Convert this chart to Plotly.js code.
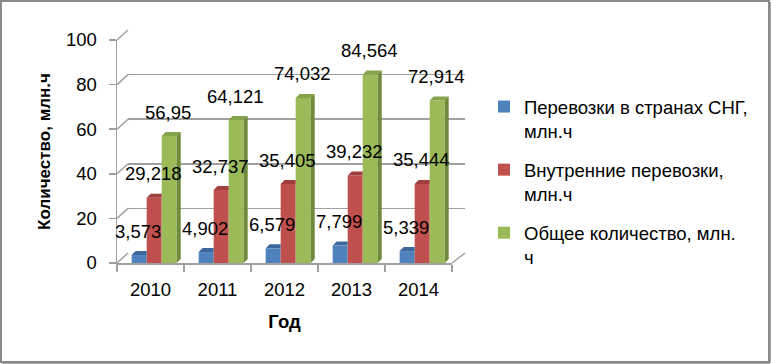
<!DOCTYPE html>
<html><head><meta charset="utf-8">
<script src="https://cdn.plot.ly/plotly-3.0.1.min.js"></script>
<style>html,body{margin:0;padding:0;background:#fff}#chart{width:771px;height:364px}</style>
</head><body><div id="chart"></div>
<script>
// ---- data ----
const years = ['2010', '2011', '2012', '2013', '2014'];
const cis = [3.573, 4.902, 6.579, 7.799, 5.339];
const domestic = [29.218, 32.737, 35.405, 39.232, 35.444];
const total = [56.95, 64.121, 74.032, 84.564, 72.914];
const seriesNames = ['Перевозки в странах СНГ,<br>млн.ч', 'Внутренние перевозки,<br>млн.ч', 'Общее количество, млн.<br>ч'];
const yTicks = [0, 20, 40, 60, 80, 100];
const xTitle = 'Год';
const yTitle = 'Количество, млн.ч';

// ---- style ----
const FONT = 'Liberation Sans, Arial, sans-serif';
const GRID = '#a0a0a0';
const front = ['#4f81bd', '#c0504d', '#9bbb59'];
const topC = ['#3d679c', '#a03f3c', '#84a34a'];
const sideC = ['#385d8a', '#8c3836', '#6f8a3b'];

// plot area (px)
const L = 117, R = 465, T = 30, B = 263;
const W = R - L, H = B - T;
const frontW = 335, frontH = 223;        // front plane
const depthX = 11, depthY = 10;          // back-wall offset
const px = x => (x - L) / W;
const py = y => (B - y) / H;

const nCat = years.length;
const xs = years.map((_, i) => i);
const barW = 0.224;
const offs = [-0.281, -0.057, 0.167];
const pxPerX = frontW / nCat, pxPerY = frontH / 100;
const ddx = 4 / pxPerX, ddy = 4 / pxPerY;

const series = [cis, domestic, total];
const fmt = v => String(v).replace('.', ',');

const traces = [];
// back wall (gridlines) subplot
traces.push({x: [0], y: [0], xaxis: 'x', yaxis: 'y', type: 'scatter', mode: 'markers',
  marker: {opacity: 0}, showlegend: false, hoverinfo: 'skip'});

series.forEach((vals, s) => {
  traces.push({
    type: 'bar', x: xs, y: vals, name: seriesNames[s], xaxis: 'x2', yaxis: 'y2',
    width: barW, offset: offs[s], marker: {color: front[s], line: {width: 0}},
    legendgroup: 'g' + s, hoverinfo: 'skip'
  });
});
// 3D faces derived from the data
series.forEach((vals, s) => {
  const last = s === series.length - 1;
  const tx = [], ty = [], sx = [], sy = [];
  vals.forEach((v, i) => {
    const xl = i + offs[s], xr = xl + barW;
    if (last) {
      tx.push(xl, xl + ddx, xr + ddx, xr, xl, null);
      sx.push(xr, xr + ddx, xr + ddx, xr, xr, null);
      sy.push(0, ddy, v + ddy, v, 0, null);
    } else {
      tx.push(xl, xl + ddx, xr, xr, xl, null);
    }
    ty.push(v, v + ddy, v + ddy, v, v, null);
  });
  traces.push({type: 'scatter', x: tx, y: ty, xaxis: 'x2', yaxis: 'y2', mode: 'lines',
    fill: 'toself', fillcolor: topC[s], line: {width: 0, color: topC[s]}, showlegend: false, hoverinfo: 'skip'});
  if (last) traces.push({type: 'scatter', x: sx, y: sy, xaxis: 'x2', yaxis: 'y2', mode: 'lines',
    fill: 'toself', fillcolor: sideC[s], line: {width: 0, color: sideC[s]}, showlegend: false, hoverinfo: 'skip'});
});

const annotations = [];
series.forEach((vals, s) => {
  vals.forEach((v, i) => {
    annotations.push({x: i + offs[s] + barW / 2, y: v, xref: 'x2', yref: 'y2', text: fmt(v),
      showarrow: false, yshift: 24, xshift: -1, font: {family: FONT, size: 18.5, color: '#000'}});
  });
});

const shapes = [];
// slanted side-wall connectors
yTicks.forEach(v => {
  shapes.push({type: 'line', xref: 'paper', yref: 'paper', layer: 'below',
    x0: 0, y0: (v / 100) * frontH / H, x1: depthX / W, y1: (depthY + (v / 100) * frontH) / H,
    line: {color: GRID, width: 1.5}});
});
// right floor edge
shapes.push({type: 'line', xref: 'paper', yref: 'paper', layer: 'below',
  x0: frontW / W, y0: 0, x1: 1, y1: depthY / H, line: {color: GRID, width: 1.5}});
// outer border
shapes.push({type: 'rect', xref: 'paper', yref: 'paper', x0: px(1), x1: px(769), y0: py(362), y1: py(1),
  line: {color: '#8a8a8a', width: 2}});
shapes.push({type: 'line', xref: 'paper', yref: 'paper', x0: px(770), x1: px(770), y0: py(363), y1: py(2),
  line: {color: '#8a8a8a', width: 1.5}});
shapes.push({type: 'line', xref: 'paper', yref: 'paper', x0: px(2), x1: px(770), y0: py(363), y1: py(363),
  line: {color: '#8a8a8a', width: 1.5}});

const layout = {
  width: 771, height: 364,
  margin: {l: L, r: 771 - R, t: T, b: 364 - B, pad: 0},
  paper_bgcolor: '#fff', plot_bgcolor: 'rgba(0,0,0,0)',
  font: {family: FONT, size: 18, color: '#000'},
  barmode: 'overlay',
  showlegend: true,
  xaxis: {domain: [depthX / W, 1], range: [0, 1], visible: false, fixedrange: true},
  yaxis: {domain: [depthY / H, 1], range: [0, 100], tickvals: yTicks, showticklabels: false,
    showgrid: true, gridcolor: GRID, gridwidth: 1.5, zeroline: false, showline: false, ticks: '', fixedrange: true},
  xaxis2: {domain: [0, frontW / W], range: [-0.5, nCat - 0.5], anchor: 'y2',
    tickvals: xs, ticktext: years, ticks: '', showgrid: false, zeroline: false,
    showline: true, linecolor: GRID, linewidth: 1.5, ticklabelstandoff: 9,
    tickfont: {family: FONT, size: 18.5, color: '#000'},
    minor: {ticks: 'outside', tick0: -0.5, dtick: 1, ticklen: 7, tickcolor: GRID, tickwidth: 1.5, showgrid: false},
    title: {text: '<b>' + xTitle + '</b>', font: {family: FONT, size: 18.5, color: '#000'}, standoff: 16}, fixedrange: true},
  yaxis2: {domain: [0, frontH / H], range: [0, 100], anchor: 'x2', tickvals: yTicks,
    ticks: 'outside', ticklen: 7, tickcolor: GRID, tickwidth: 1.5, showgrid: false, zeroline: false,
    showline: true, linecolor: GRID, linewidth: 1.5, ticklabelstandoff: 8,
    tickfont: {family: FONT, size: 18.5, color: '#000'},
    title: {text: '<b>' + yTitle + '</b>', font: {family: FONT, size: 17, color: '#000'}, standoff: 11}, fixedrange: true},
  legend: {x: px(484), xanchor: 'left', y: py(88), yanchor: 'top', valign: 'top',
    font: {family: FONT, size: 18.5, color: '#000'}, tracegroupgap: 12, bgcolor: 'rgba(0,0,0,0)'},
  annotations: annotations,
  shapes: shapes
};

Plotly.newPlot('chart', traces, layout, {displayModeBar: false, staticPlot: true});
</script></body></html>
